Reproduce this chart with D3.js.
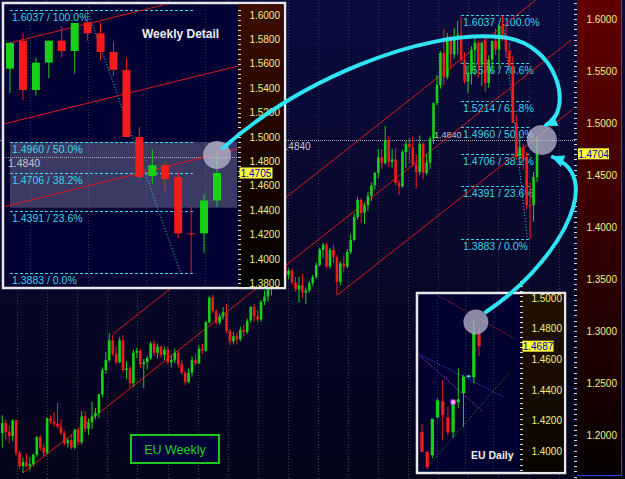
<!DOCTYPE html>
<html>
<head>
<meta charset="utf-8">
<title>EU Weekly</title>
<script src="https://cdn.jsdelivr.net/npm/d3@7"></script>
<style>
	body { margin: 0; background: #05051e; }
	svg { display: block; font-family: "Liberation Sans", Arial, sans-serif; }
</style>
</head>
<body>
<div id="chart"></div>
<script type="text/javascript">
// weekly EUR/USD, week index 0 = first bar on the left
var wkOpen = [1.2020,1.2115,1.2030,1.1990,1.2140,1.1830,1.1700,1.1740,1.1700,1.1720,1.1810,1.1980,1.1880,1.1830,1.2160,1.2130,1.2110,1.2080,1.2020,1.1920,
	1.1950,1.1880,1.2050,1.1930,1.2180,1.2060,1.2120,1.2180,1.2210,1.2390,1.2625,1.2720,1.2910,1.2780,1.2700,1.2910,1.2625,1.2640,1.2500,1.2790,
	1.2810,1.2680,1.2700,1.2740,1.2880,1.2790,1.2850,1.2770,1.2820,1.2700,1.2720,1.2790,1.2680,1.2600,1.2510,1.2600,1.2720,1.2690,1.2830,1.2810,
	1.3085,1.3320,1.3190,1.3080,1.3140,1.3180,1.3000,1.2900,1.2950,1.2920,1.3010,1.2990,1.3100,1.3230,1.3140,1.3110,1.3280,1.3330,1.3400,1.3440,
	1.3510,1.3600,1.3650,1.3540,1.3580,1.3470,1.3400,1.3440,1.3370,1.3390,1.3460,1.3520,1.3635,1.3780,1.3830,1.3620,1.3780,1.3710,1.3470,1.3650,
	1.3620,1.3760,1.3875,1.4096,1.4260,1.4135,1.4210,1.4300,1.4400,1.4520,1.4670,1.4615,1.4837,1.4625,1.4650,1.4423,1.4390,1.4720,1.4800,1.4770,
	1.4600,1.4530,1.4800,1.4520,1.4620,1.4850,1.5190,1.5365,1.5673,1.5440,1.5800,1.5660,1.5800,1.5850,1.5606,1.5400,1.5480,1.5700,1.5770,1.5560,
	1.5790,1.5385,1.5610,1.5790,1.5705,1.5940,1.5850,1.5697,1.5550,1.5000,1.4680,1.4770,1.4672,1.4210,1.4210,1.4480];
var wkHigh = [1.2190,1.2150,1.2090,1.2150,1.2150,1.1850,1.1780,1.1820,1.1790,1.1820,1.1990,1.2000,1.1920,1.2170,1.2190,1.2220,1.2310,1.2150,1.2040,1.1970,
	1.2000,1.2060,1.2070,1.2230,1.2230,1.2160,1.2320,1.2260,1.2400,1.2650,1.2800,1.2980,1.2960,1.2850,1.2940,1.2960,1.2710,1.2660,1.2820,1.2840,
	1.2830,1.2730,1.2760,1.2900,1.2910,1.2880,1.2860,1.2850,1.2850,1.2770,1.2830,1.2810,1.2720,1.2620,1.2640,1.2760,1.2780,1.2860,1.2880,1.3100,
	1.3340,1.3350,1.3210,1.3170,1.3230,1.3260,1.3020,1.2990,1.2990,1.3040,1.3060,1.3120,1.3240,1.3260,1.3200,1.3300,1.3390,1.3420,1.3460,1.3530,
	1.3630,1.3680,1.3660,1.3600,1.3600,1.3520,1.3520,1.3550,1.3420,1.3480,1.3540,1.3660,1.3800,1.3850,1.3850,1.3800,1.3830,1.3730,1.3670,1.3720,
	1.3790,1.3930,1.4130,1.4290,1.4280,1.4230,1.4340,1.4430,1.4530,1.4750,1.4750,1.4970,1.4870,1.4750,1.4760,1.4450,1.4740,1.4830,1.4850,1.4870,
	1.4700,1.4880,1.4820,1.4700,1.4870,1.5200,1.5460,1.5690,1.5905,1.5865,1.5840,1.5910,1.5980,1.6020,1.5680,1.5560,1.5740,1.5820,1.5790,1.5780,
	1.5850,1.5650,1.5790,1.5910,1.5935,1.6037,1.5940,1.5780,1.5650,1.5080,1.4900,1.4800,1.4720,1.4430,1.4530,1.4867];
var wkLow = [1.1880,1.1950,1.1920,1.1940,1.1800,1.1670,1.1635,1.1690,1.1660,1.1700,1.1790,1.1850,1.1800,1.1810,1.2100,1.2080,1.2060,1.2000,1.1900,1.1880,
	1.1860,1.1860,1.1900,1.1910,1.2030,1.2000,1.2060,1.2150,1.2160,1.2360,1.2590,1.2700,1.2760,1.2680,1.2690,1.2600,1.2540,1.2460,1.2460,1.2740,
	1.2640,1.2450,1.2630,1.2720,1.2760,1.2740,1.2740,1.2720,1.2680,1.2650,1.2690,1.2650,1.2580,1.2480,1.2500,1.2560,1.2670,1.2680,1.2780,1.2800,
	1.3070,1.3170,1.3060,1.3060,1.3110,1.2980,1.2865,1.2870,1.2870,1.2900,1.2950,1.2970,1.3080,1.3090,1.3080,1.3090,1.3250,1.3280,1.3340,1.3400,
	1.3480,1.3550,1.3500,1.3500,1.3440,1.3380,1.3270,1.3320,1.3260,1.3370,1.3430,1.3500,1.3620,1.3700,1.3600,1.3600,1.3650,1.3345,1.3440,1.3560,
	1.3600,1.3740,1.3860,1.4070,1.4040,1.4030,1.4150,1.4250,1.4360,1.4470,1.4560,1.4600,1.4580,1.4570,1.4400,1.4308,1.4380,1.4570,1.4610,1.4580,
	1.4370,1.4500,1.4460,1.4500,1.4560,1.4800,1.5170,1.5330,1.5360,1.5420,1.5520,1.5620,1.5660,1.5570,1.5380,1.5290,1.5370,1.5460,1.5440,1.5360,
	1.5300,1.5340,1.5480,1.5655,1.5520,1.5790,1.5630,1.5500,1.5000,1.4640,1.4620,1.4550,1.4170,1.3883,1.4050,1.4430];
var wkClose = [1.2115,1.2030,1.1990,1.2140,1.1830,1.1700,1.1740,1.1700,1.1720,1.1810,1.1980,1.1880,1.1830,1.2160,1.2130,1.2110,1.2080,1.2020,1.1920,1.1950,
	1.1880,1.2050,1.1930,1.2180,1.2060,1.2120,1.2180,1.2210,1.2390,1.2625,1.2720,1.2910,1.2780,1.2700,1.2910,1.2625,1.2640,1.2500,1.2790,1.2810,
	1.2680,1.2700,1.2740,1.2880,1.2790,1.2850,1.2770,1.2820,1.2700,1.2720,1.2790,1.2680,1.2600,1.2510,1.2600,1.2720,1.2690,1.2830,1.2810,1.3085,
	1.3320,1.3190,1.3080,1.3140,1.3180,1.3000,1.2900,1.2950,1.2920,1.3010,1.2990,1.3100,1.3230,1.3140,1.3110,1.3280,1.3330,1.3400,1.3440,1.3510,
	1.3600,1.3650,1.3540,1.3580,1.3470,1.3400,1.3440,1.3370,1.3390,1.3460,1.3520,1.3635,1.3780,1.3830,1.3620,1.3780,1.3710,1.3470,1.3650,1.3620,
	1.3760,1.3875,1.4096,1.4260,1.4135,1.4210,1.4300,1.4400,1.4520,1.4670,1.4615,1.4837,1.4625,1.4650,1.4423,1.4390,1.4720,1.4800,1.4770,1.4600,
	1.4530,1.4800,1.4520,1.4620,1.4850,1.5190,1.5365,1.5673,1.5440,1.5800,1.5660,1.5800,1.5850,1.5606,1.5400,1.5480,1.5700,1.5770,1.5560,1.5770,
	1.5385,1.5610,1.5790,1.5705,1.5935,1.5850,1.5697,1.5550,1.5000,1.4672,1.4770,1.4655,1.4210,1.4205,1.4480,1.4705];

// daily bars in the small inset
var dyOpen  = [1.4126,1.3996,1.3975,1.4222,1.4327,1.4222,1.4124,1.4320,1.4379,1.4485,1.4484,1.4766];
var dyHigh  = [1.4178,1.4005,1.4215,1.4346,1.4464,1.4291,1.4340,1.4544,1.4499,1.4500,1.4858,1.4815];
var dyLow   = [1.3996,1.3883,1.3955,1.4215,1.4072,1.4105,1.4087,1.4283,1.4161,1.4478,1.4444,1.4623];
var dyClose = [1.3996,1.3895,1.4211,1.4333,1.4235,1.4124,1.4316,1.4340,1.4488,1.4492,1.4771,1.4687];

// fibonacci retracement of the Jul-Sep 2008 drop
var fibHigh = 1.6037, fibLow = 1.3883;
var fibRatios = [1, 0.786, 0.618, 0.5, 0.382, 0.236, 0];
var fibRatiosInset = [1, 0.5, 0.382, 0.236, 0];
var fibSwing = [[145, 1.6037], [152.2, 1.3883]];

// trend channel, [week, price] end points
var channels = [
	[[6, 1.1635], [165, 1.5801]],
	[[32.1, 1.2971], [165, 1.6453]],
	[[97.2, 1.3346], [165, 1.5122]]
];
var refLevel = 1.4840;
var tagMain = 1.4704, tagInset = 1.4705;
var insetBand = [1.4960, 1.4420];

// daily study lines, [bar, price]
var dailyLines = [
	{ color: '#e03030', pts: [[2.9, 1.5022], [17.95, 1.4734]] },
	{ color: '#3a5cff', pts: [[-0.58, 1.4636], [15.8, 1.4355]] },
	{ color: '#e040e0', pts: [[-0.39, 1.4623], [11.78, 1.4257]] },
	{ color: '#1f9a1f', pts: [[1.16, 1.3904], [17, 1.4519]] }
];

// highlight circles and the cyan arrows (main chart coords: week, price)
var spotMain = [156.4, 1.4837], spotInset = [155, 1.4852], spotDaily = [10.4, 1.4845];
var arrowWeekly = [[63.98, 1.4760], [86.3, 1.5413], [121.1, 1.5894], [144.3, 1.5827], [161.7, 1.5779], [165.6, 1.5100], [157.6, 1.4981]];
var arrowDaily = [[140.2, 1.3183], [158.8, 1.3587], [176.2, 1.4452], [159.6, 1.4673]];

const GREEN = '#18d018';
const RED = '#f21c1c';
const CYAN = '#3cd6e6';
const AXIS_TXT = '#eeee8a';

var W = 625, H = 479;
var fmt4 = d3.format('.4f');
var svg = d3.select('#chart').append('svg').attr('width', W).attr('height', H);
var defs = svg.append('defs');

function vGrad(id, c0, c1) {
	var g = defs.append('linearGradient').attr('id', id).attr('x1', 0).attr('y1', 0).attr('x2', 0).attr('y2', 1);
	g.append('stop').attr('offset', '0%').attr('stop-color', c0);
	g.append('stop').attr('offset', '100%').attr('stop-color', c1);
}
function clipRect(id, x, y, w, h) {
	defs.append('clipPath').attr('id', id).append('rect').attr('x', x).attr('y', y).attr('width', w).attr('height', h);
}
vGrad('bgMain', '#0b0b3e', '#04041a');
vGrad('axMain', '#620000', '#060000');
vGrad('axInset', '#3e0c00', '#000000');
vGrad('axDaily', '#241200', '#0a0500');
clipRect('clipMain', 0, 0, 576, H);
clipRect('clipInset', 4.5, 4.5, 233, 282);
clipRect('clipDaily', 418.5, 294.5, 102, 177);

var weekRows = d3.range(wkClose.length).map(function(i) {
	return { i: i, o: wkOpen[i], h: wkHigh[i], l: wkLow[i], c: wkClose[i] };
});
var dayRows = d3.range(dyClose.length).map(function(i) {
	return { i: i, o: dyOpen[i], h: dyHigh[i], l: dyLow[i], c: dyClose[i] };
});

function drawCandles(g, rows, xs, ys, bodyW) {
	var c = g.selectAll(null).data(rows).enter().append('g');
	c.append('line')
		.attr('x1', function(d) { return xs(d.i); })
		.attr('x2', function(d) { return xs(d.i); })
		.attr('y1', function(d) { return ys(d.h); })
		.attr('y2', function(d) { return ys(d.l); })
		.attr('stroke', function(d) { return d.c >= d.o ? GREEN : RED; });
	c.append('rect')
		.attr('x', function(d) { return xs(d.i) - bodyW / 2; })
		.attr('width', bodyW)
		.attr('y', function(d) { return ys(Math.max(d.o, d.c)); })
		.attr('height', function(d) { return Math.max(1, Math.abs(ys(d.o) - ys(d.c))); })
		.attr('fill', function(d) { return d.c >= d.o ? GREEN : RED; });
}
function drawFib(g, ratios, xs, ys, x0, x1) {
	ratios.forEach(function(r) {
		var p = fibLow + r * (fibHigh - fibLow);
		g.append('line').attr('x1', xs(x0)).attr('x2', xs(x1))
			.attr('y1', Math.round(ys(p)) + 0.5).attr('y2', Math.round(ys(p)) + 0.5)
			.attr('stroke', CYAN).attr('stroke-dasharray', '3,2');
		g.append('text').attr('x', xs(x0) + 2).attr('y', ys(p) + 11)
			.attr('fill', CYAN).attr('font-size', '10.5px')
			.text(fmt4(p) + ' / ' + d3.format('.1f')(r * 100) + '%');
	});
	g.append('line')
		.attr('x1', xs(fibSwing[0][0])).attr('y1', ys(fibSwing[0][1]))
		.attr('x2', xs(fibSwing[1][0])).attr('y2', ys(fibSwing[1][1]))
		.attr('stroke', CYAN).attr('stroke-dasharray', '1,2');
}
function drawChannels(g, xs, ys) {
	channels.forEach(function(c) {
		g.append('line')
			.attr('x1', xs(c[0][0])).attr('y1', ys(c[0][1]))
			.attr('x2', xs(c[1][0])).attr('y2', ys(c[1][1]))
			.attr('stroke', '#e01818').attr('stroke-width', 1);
	});
}
function priceAxis(g, ys, x0, xText, range, step, minor, lo, hi) {
	g.selectAll(null).data(d3.range(lo, hi, minor)).enter().append('line')
		.attr('x1', x0 - 3).attr('x2', x0)
		.attr('y1', function(d) { return Math.round(ys(d)) + 0.5; })
		.attr('y2', function(d) { return Math.round(ys(d)) + 0.5; })
		.attr('stroke', '#d8d8d8');
	g.selectAll(null).data(d3.range(range[0], range[1] + 1e-9, step)).enter().append('text')
		.attr('x', xText).attr('y', function(d) { return ys(d) + 3.5; })
		.attr('text-anchor', 'end').attr('font-size', '10px').attr('fill', AXIS_TXT)
		.text(function(d) { return fmt4(d); });
}
function priceTag(g, x0, yc, w, v) {
	g.append('rect').attr('x', x0).attr('y', yc - 5.5).attr('width', w).attr('height', 11).attr('fill', '#ffff3a');
	g.append('text').attr('x', x0 + w / 2).attr('y', yc + 3.8).attr('text-anchor', 'middle')
		.attr('font-size', '10px').attr('fill', '#0000b4').text(fmt4(v));
}
function spot(g, xs, ys, p, r) {
	g.append('circle').attr('cx', xs(p[0])).attr('cy', ys(p[1])).attr('r', r)
		.attr('fill', 'rgba(195,195,215,0.7)');
}

// ---------- main weekly chart ----------
var x = d3.scaleLinear().domain([6, 155]).range([23, 537]);
var y = d3.scaleLinear().domain([1.2, 1.6]).range([435, 19]);

svg.append('rect').attr('width', W).attr('height', H).attr('fill', 'url(#bgMain)');
var main = svg.append('g').attr('clip-path', 'url(#clipMain)');

main.selectAll(null).data(d3.range(4.3, 166, 8.72)).enter().append('line')
	.attr('x1', function(d) { return Math.round(x(d)) + 0.5; })
	.attr('x2', function(d) { return Math.round(x(d)) + 0.5; })
	.attr('y1', 0).attr('y2', H)
	.attr('stroke', '#3a3a58').attr('stroke-dasharray', '1,2');

main.append('line').attr('x1', 0).attr('x2', 576)
	.attr('y1', Math.round(y(refLevel)) + 0.5).attr('y2', Math.round(y(refLevel)) + 0.5)
	.attr('stroke', '#a8a8b0').attr('stroke-dasharray', '1,1');
// first copy of the label sits mostly under the inset, only "4840" shows
main.append('text').attr('x', 280).attr('y', y(refLevel) + 10).attr('font-size', '10px').attr('fill', '#c8c8c8').text(fmt4(refLevel));
main.append('text').attr('x', 434).attr('y', y(refLevel) - 2).attr('font-size', '9px').attr('fill', '#c8c8c8').text(fmt4(refLevel));

drawFib(main, fibRatios, x, y, 133, 153.2);
drawChannels(main, x, y);
drawCandles(main, weekRows, x, y, 2.6);
spot(main, x, y, spotMain, 15);

// right price axis
svg.append('rect').attr('x', 577).attr('y', 0).attr('width', 44).attr('height', 475).attr('fill', 'url(#axMain)');
svg.append('line').attr('x1', 621.5).attr('x2', 621.5).attr('y1', 0).attr('y2', 475.5).attr('stroke', '#2c48d8');
svg.append('line').attr('x1', 577).attr('x2', 622).attr('y1', 475.5).attr('y2', 475.5).attr('stroke', '#2c48d8');
priceAxis(svg, y, 577, 617, [1.2, 1.6], 0.05, 0.005, 1.155, 1.625);
priceTag(svg, 578, y(tagMain), 31, tagMain);

// EU Weekly caption
svg.append('rect').attr('x', 131).attr('y', 435).attr('width', 88).attr('height', 28)
	.attr('fill', '#000038').attr('stroke', '#1ec81e').attr('stroke-width', 2);
svg.append('text').attr('x', 175).attr('y', 454).attr('text-anchor', 'middle')
	.attr('font-size', '12.5px').attr('fill', '#22d422').text('EU Weekly');

// ---------- weekly detail inset ----------
var xi = d3.scaleLinear().domain([139, 155]).range([10, 217]);
var yi = d3.scaleLinear().domain([1.38, 1.6]).range([283.4, 15]);
var inset = svg.append('g');
inset.append('rect').attr('x', 3).attr('y', 3).attr('width', 282).attr('height', 285)
	.attr('fill', '#010134').attr('stroke', '#e8e8e8').attr('stroke-width', 2.5);
inset.append('rect').attr('x', 238).attr('y', 4.3).attr('width', 45.5).attr('height', 282.5).attr('fill', 'url(#axInset)');
var ip = inset.append('g').attr('clip-path', 'url(#clipInset)');
ip.selectAll(null).data(d3.range(140.55, 156, 4.5)).enter().append('line')
	.attr('x1', function(d) { return Math.round(xi(d)) + 0.5; })
	.attr('x2', function(d) { return Math.round(xi(d)) + 0.5; })
	.attr('y1', 4).attr('y2', 288)
	.attr('stroke', '#34345a').attr('stroke-dasharray', '1,2');
ip.append('rect').attr('x', xi(139)).attr('width', 237 - xi(139))
	.attr('y', yi(insetBand[0])).attr('height', yi(insetBand[1]) - yi(insetBand[0]))
	.attr('fill', 'rgba(180,180,205,0.32)');
ip.append('line').attr('x1', 4).attr('x2', 237)
	.attr('y1', Math.round(yi(refLevel)) + 0.5).attr('y2', Math.round(yi(refLevel)) + 0.5)
	.attr('stroke', '#a8a8b0').attr('stroke-dasharray', '1,1');
ip.append('text').attr('x', 8).attr('y', yi(refLevel) + 10).attr('font-size', '10.5px').attr('fill', '#c8c8c8').text(fmt4(refLevel));
drawFib(ip, fibRatiosInset, xi, yi, 139, 153.2);
drawChannels(ip, xi, yi);
drawCandles(ip, weekRows.filter(function(d) { return d.i >= 139; }), xi, yi, 8);
spot(ip, xi, yi, spotInset, 14);
ip.append('text').attr('x', 142).attr('y', 38).attr('font-size', '12px').attr('font-weight', 'bold')
	.attr('fill', '#f0f0f0').text('Weekly Detail');
priceAxis(inset, yi, 241, 280, [1.38, 1.6], 0.02, 0.004, 1.376, 1.605);
priceTag(inset, 239.5, yi(tagInset), 33, tagInset);

// ---------- daily inset ----------
var xd = d3.scaleLinear().domain([0, 11]).range([422, 479]);
var yd = d3.scaleLinear().domain([1.4, 1.5]).range([451.3, 298.3]);
var daily = svg.append('g');
daily.append('rect').attr('x', 417).attr('y', 293).attr('width', 148).attr('height', 180)
	.attr('fill', '#000030').attr('stroke', '#e8e8e8').attr('stroke-width', 2.5);
daily.append('rect').attr('x', 520.5).attr('y', 294.3).attr('width', 43.3).attr('height', 177.4).attr('fill', 'url(#axDaily)');
var dp = daily.append('g').attr('clip-path', 'url(#clipDaily)');
dp.selectAll(null).data(d3.range(2.9, 19, 5.4)).enter().append('line')
	.attr('x1', function(d) { return Math.round(xd(d)) + 0.5; })
	.attr('x2', function(d) { return Math.round(xd(d)) + 0.5; })
	.attr('y1', 294).attr('y2', 472)
	.attr('stroke', '#303050').attr('stroke-dasharray', '1,2');
dailyLines.forEach(function(l) {
	dp.append('line')
		.attr('x1', xd(l.pts[0][0])).attr('y1', yd(l.pts[0][1]))
		.attr('x2', xd(l.pts[1][0])).attr('y2', yd(l.pts[1][1]))
		.attr('stroke', l.color).attr('stroke-dasharray', '1,1.5');
});
drawCandles(dp, dayRows, xd, yd, 3.3);
dp.append('rect').attr('x', xd(6) - 2).attr('y', yd(1.4322) - 2).attr('width', 4).attr('height', 4)
	.attr('fill', '#ffc0ff').attr('stroke', '#ff40ff');
dp.append('line').attr('x1', xd(9) - 2).attr('x2', xd(9) + 2).attr('y1', yd(1.4490)).attr('y2', yd(1.4490))
	.attr('stroke', '#40e0f0').attr('stroke-width', 1.5);
spot(dp, xd, yd, spotDaily, 12.5);
dp.append('text').attr('x', 471).attr('y', 459).attr('font-size', '10.5px').attr('font-weight', 'bold')
	.attr('fill', '#f0f0f0').text('EU Daily');
priceAxis(daily, yd, 523, 562, [1.4, 1.5], 0.02, 0.02 / 6, 1.388, 1.512);
priceTag(daily, 522.5, yd(dyClose[dyClose.length - 1]), 31, dyClose[dyClose.length - 1]);

// ---------- cyan arrows ----------
function arrowPath(pts) {
	var p = d3.path();
	var P = pts.map(function(d) { return [x(d[0]), y(d[1])]; });
	p.moveTo(P[0][0], P[0][1]);
	for (var k = 1; k + 2 < P.length; k += 3) {
		p.bezierCurveTo(P[k][0], P[k][1], P[k + 1][0], P[k + 1][1], P[k + 2][0], P[k + 2][1]);
	}
	svg.append('path').attr('d', p.toString()).attr('fill', 'none')
		.attr('stroke', '#2ee4f4').attr('stroke-width', 4).attr('stroke-linecap', 'round');
	// arrow head along the last control direction
	var a = P[P.length - 2], b = P[P.length - 1];
	var ang = Math.atan2(b[1] - a[1], b[0] - a[0]);
	var len = 11, half = 6;
	var bx = b[0] - len * Math.cos(ang), by = b[1] - len * Math.sin(ang);
	svg.append('path')
		.attr('d', 'M' + (b[0] + 2 * Math.cos(ang)) + ',' + (b[1] + 2 * Math.sin(ang)) +
			'L' + (bx + half * Math.sin(ang)) + ',' + (by - half * Math.cos(ang)) +
			'L' + (bx - half * Math.sin(ang)) + ',' + (by + half * Math.cos(ang)) + 'Z')
		.attr('fill', '#2ee4f4');
}
arrowPath(arrowWeekly);
arrowPath(arrowDaily);
</script>
</body>
</html>
